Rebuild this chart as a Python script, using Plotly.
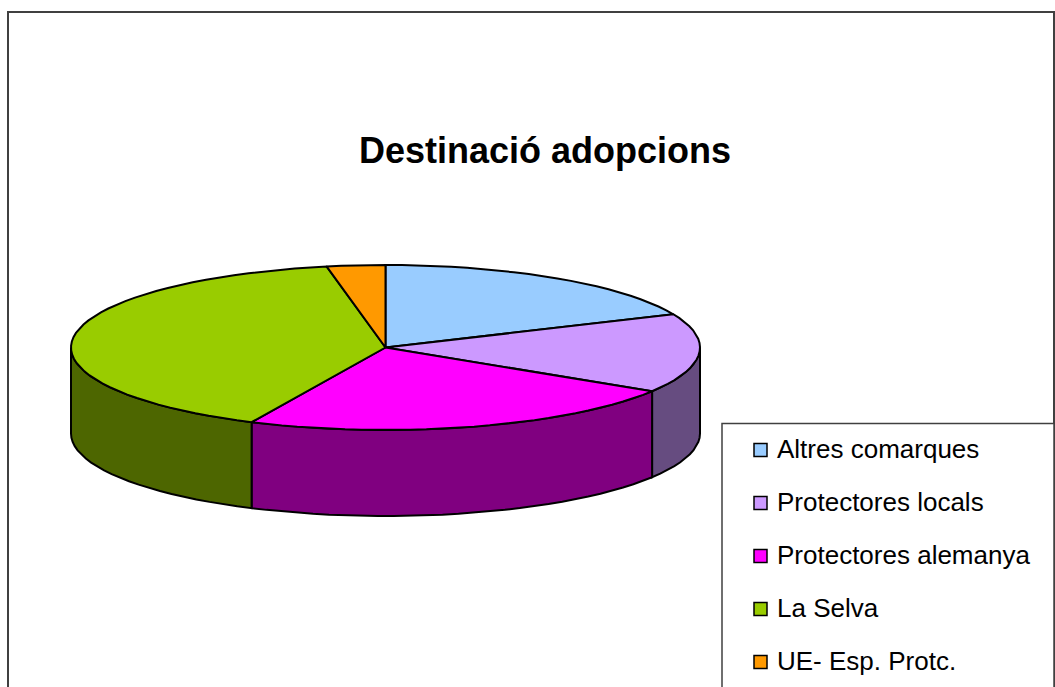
import numpy as np
import plotly.graph_objects as go

categories = ["Altres comarques", "Protectores locals", "Protectores alemanya", "La Selva", "UE- Esp. Protc."]
values = [18.4, 15.5, 23.1, 40.0, 3.0]
top_colors = ["#99CCFF", "#CC99FF", "#FF00FF", "#99CC00", "#FF9900"]
side_colors = ["#4C6680", "#664C80", "#800080", "#4D6600", "#804C00"]

W, H = 1055, 687
CX, CY, RX, RY, DEPTH = 385.5, 347.5, 314.5, 82.5, 86
STEP = 3.0

def rim(a0, a1, dy=0.0):
    n = max(2, int(round((a1 - a0) / STEP)) + 1)
    t = np.radians(np.linspace(a0, a1, n))
    return CX + RX * np.sin(t), CY - RY * np.cos(t) + dy

fig = go.Figure()
edges = np.concatenate([[0], np.cumsum(values) / np.sum(values) * 360])
LINE = dict(color="black", width=2)

# side walls (front half only)
for i, name in enumerate(categories):
    a0, a1 = max(edges[i], 90), min(edges[i + 1], 270)
    if a1 > a0:
        xt, yt = rim(a0, a1)
        xb, yb = rim(a0, a1, DEPTH)
        fig.add_trace(go.Scatter(
            x=np.concatenate([xt, xb[::-1], xt[:1]]),
            y=np.concatenate([yt, yb[::-1], yt[:1]]),
            mode="lines", fill="toself", fillcolor=side_colors[i], line=LINE,
            showlegend=False, hoverinfo="skip"))

# top face
for i, name in enumerate(categories):
    xt, yt = rim(edges[i], edges[i + 1])
    fig.add_trace(go.Scatter(
        x=np.concatenate([[CX], xt, [CX]]),
        y=np.concatenate([[CY], yt, [CY]]),
        mode="lines", fill="toself", fillcolor=top_colors[i], line=LINE,
        showlegend=False, name=name, text=f"{values[i]}", hoverinfo="name+text"))

# legend
LEG_X, LEG_Y0, LEG_DY, TXT_X = 760.5, 450, 53, 777
for i, name in enumerate(categories):
    y = LEG_Y0 + i * LEG_DY
    fig.add_trace(go.Scatter(
        x=[LEG_X], y=[y], mode="markers",
        marker=dict(symbol="square", size=13, color=top_colors[i], line=dict(color="black", width=1.5)),
        showlegend=False, hoverinfo="skip"))
    fig.add_annotation(x=TXT_X, y=y - 1, xref="x", yref="y", text=name, showarrow=False,
                       xanchor="left", yanchor="middle", xshift=-2,
                       font=dict(family="Liberation Sans", size=26, color="black"))

fig.add_annotation(x=545, y=150, xref="x", yref="y", text="<b>Destinació adopcions</b>", showarrow=False,
                   xanchor="center", yanchor="middle",
                   font=dict(family="Liberation Sans", size=36, color="black"))

FRAME = dict(color="#404040", width=2)
fig.update_layout(
    width=W, height=H, margin=dict(l=0, r=0, t=0, b=0),
    paper_bgcolor="white", plot_bgcolor="white", showlegend=False,
    xaxis=dict(range=[0, W], visible=False, fixedrange=True),
    yaxis=dict(range=[H, 0], visible=False, fixedrange=True),
    shapes=[
        dict(type="rect", xref="x", yref="y", x0=8, y0=12, x1=1054, y1=720, line=FRAME, layer="below"),
        dict(type="rect", xref="x", yref="y", x0=722, y0=423.5, x1=1054, y1=720,
             line=dict(color="#404040", width=1.5), fillcolor="white", layer="below"),
    ],
)

fig.write_html("out.html", config=dict(displayModeBar=False),
               post_script="document.body.style.margin='0';document.body.style.overflow='hidden';")
